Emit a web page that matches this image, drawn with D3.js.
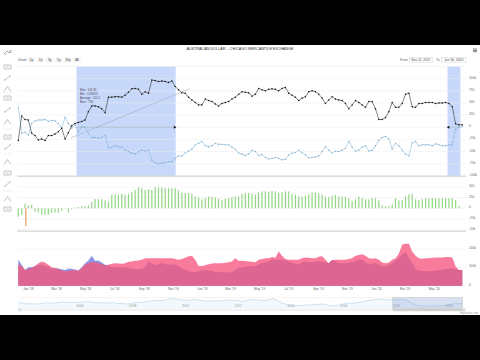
<!DOCTYPE html>
<html>
<head>
<meta charset="utf-8">
<script src="https://cdn.jsdelivr.net/npm/d3@7"></script>
<style>
    html, body { margin: 0; padding: 0; background: #000; overflow: hidden; }
    svg { display: block; font-family: "Liberation Sans", Arial, sans-serif; }
    .tick-label { font-size: 3.3px; fill: #666; }
    .axis path, .axis line { display: none; }
    .axis text { font-size: 3.2px; fill: #666; font-family: "Liberation Sans", Arial, sans-serif; }
</style>
</head>
<body>
<svg id="chart" width="480" height="360"></svg>
<script>
// net position, thousands of contracts
const longSeries = [-27,23,16,15,-12,-17,-26,-24,-27,-17,-17,-14,-9,-2,-24,-11,3,8,10,12,15,32,44,44,42,38,30,62,62,63,63,62,66,72,79,80,78,68,73,70,97,96,94,95,94,92,
    95,84,77,71,70,62,56,51,46,46,58,55,53,48,44,49,51,53,58,62,68,73,72,71,64,68,80,77,75,78,79,78,75,80,82,70,66,62,55,60,63,73,75,73,68,60,
    49,56,63,58,56,55,49,38,46,55,51,46,41,53,53,38,16,16,20,32,51,41,41,49,68,70,42,41,49,49,51,51,51,49,50,50,51,49,42,7,5,5];
const shortSeries = [41,-12,-10,-16,8,13,15,15,16,12,14,13,8,-2,21,8,-2,5,-9,1,1,-12,-21,-21,-23,-21,-16,-43,-41,-38,-40,-41,-47,-50,-53,-55,-50,-47,-49,-47,-68,-73,-75,-74,-73,-71,
    -71,-64,-59,-59,-53,-49,-45,-36,-33,-29,-38,-40,-38,-33,-35,-35,-36,-36,-41,-45,-53,-55,-58,-55,-47,-50,-58,-56,-62,-65,-64,-62,-64,-67,-66,-57,-53,-52,-47,-52,-57,-63,-62,-61,-59,-50,
    -40,-47,-53,-49,-50,-47,-43,-29,-41,-49,-47,-41,-38,-49,-47,-38,-27,-21,-19,-24,-45,-33,-38,-47,-55,-59,-32,-29,-38,-36,-36,-36,-38,-34,-36,-38,-38,-36,-36,-4,1,1];
const changeSeries = [-20,-15,11,7,8,-8,-10,-15,-15,-15,-11,-10,-10,-6,-1,-10,-2,2,3,5,5,7,15,22,22,21,19,15,32,33,32,34,32,34,38,43,49,47,43,45,43,49,49,49,47,47,47,47,42,37,36,36,34,28,26,21,24,28,27,26,23,19,23,24,26,28,28,
    34,36,36,34,32,37,40,40,39,40,40,37,38,40,40,34,32,28,27,30,33,37,37,36,32,28,27,30,31,28,28,27,24,17,21,27,24,21,21,24,24,19,7,5,5,9,24,19,19,28,33,34,21,19,22,24,24,24,24,23,24,24,24,24,19,5,0];
const openSeries = [114,108,86,90,97,108,123,130,127,114,101,97,90,83,77,79,83,83,81,95,114,123,128,127,123,117,112,114,119,123,121,119,123,130,132,136,138,141,150,150,149,149,149,149,150,149,149,145,141,145,152,160,163,141,108,108,112,117,121,123,123,123,125,128,132,150,136,
    136,134,132,130,128,141,145,149,150,156,152,187,163,145,141,141,141,141,149,154,152,150,149,158,160,141,123,139,141,141,141,141,145,150,163,167,171,163,150,147,150,141,127,123,127,141,150,174,224,229,229,187,163,150,147,149,150,152,154,154,154,156,156,154,105,86,86];
const interestSeries = [141,114,86,101,101,105,112,114,108,101,92,94,94,90,86,92,92,88,83,101,123,138,163,136,138,127,114,108,101,101,99,99,99,95,94,90,90,90,101,132,119,112,117,123,116,114,114,114,108,94,86,79,73,75,79,83,86,83,79,75,75,73,72,72,73,86,95,
    99,103,105,105,108,114,123,127,132,141,141,141,141,136,132,127,119,114,128,130,128,128,130,132,130,127,123,141,132,123,123,123,125,128,132,141,141,127,116,119,123,114,105,105,112,123,138,150,169,182,150,123,90,83,79,77,77,79,81,84,86,90,92,94,90,86,86];
const navigatorSeries = [-21,-35,-49,-42,-49,-35,-21,-35,-21,-7,-14,-7,-21,-7,0,-14,-21,-28,-28,-21,-35,-42,-49,-28,-14,-7,7,21,28,21,49,63,49,35,21,49,35,21,7,21,14,21,35,21,35,
    0,35,49,35,21,35,63,21,-35,-63,-91,-84,-77,-70,-63,-56,-49,-70,-91,-77,-49,-28,-35,-21,-7,21,35,49,49,42,35,42,49,21,-35,-77,-91,-91,-91,-91,-84,-77,-49,-42,-35];
const orangeIndex = [2];
const orangeValues = [-42];

const mainTicks = [100, 75, 50, 25, 0, -25, -50, -75, -100];
const changeTicks = [50, 25, 0, -25, -50];
const areaTicks = [200, 100, 0];
const zoomButtons = ['1y', '2y', '3y', '5y', '10y', 'All'];
const statLines = ['Max : 141.81', 'Min : 13.8413', 'Average : 112.5', 'Bars : 756'];

const firstDate = new Date(2017, 11, 12);
const lastDate = new Date(2020, 5, 30);
const dates = d3.range(longSeries.length).map(i => d3.timeWeek.offset(firstDate, i));

const bandStarts = [new Date(2018, 3, 13), new Date(2020, 4, 30)];
const bandEnds = [new Date(2018, 10, 7), new Date(2020, 5, 26)];
const trendDates = [new Date(2018, 3, 1), new Date(2018, 11, 6)];
const trendValues = [-22, 79];

const PLOT = { left: 18.3, right: 462.3 };

const $svg = d3.select('#chart');

// white page area between the video bars
$svg.append('rect').attr('x', 0).attr('y', 45).attr('width', 480).attr('height', 270).attr('fill', '#fff');

const xScale = d3.scaleTime().domain([firstDate, lastDate]).range([PLOT.left, PLOT.right]);
const yMain = d3.scaleLinear().domain([-100, 125]).range([175.9, 66.5]);
const yChange = d3.scaleLinear().domain([-50, 50]).range([229.6, 187]);
const yArea = d3.scaleLinear().domain([0, 200]).range([285.7, 249]);

function drawGrid(ticks, scale) {
    $svg.append('g').selectAll('line')
        .data(ticks)
        .enter().append('line')
        .attr('x1', PLOT.left - 1).attr('x2', 466)
        .attr('y1', d => scale(d)).attr('y2', d => scale(d))
        .attr('stroke', '#ececec').attr('stroke-width', 0.5)
}

function drawYLabels(ticks, scale) {
    $svg.append('g').selectAll('text')
        .data(ticks)
        .enter().append('text')
        .attr('class', 'tick-label')
        .attr('x', 469)
        .attr('y', d => scale(d))
        .text(d => d === 0 ? '0' : `${d}k`)
}

// bands go under the grid
$svg.append('g').selectAll('rect')
    .data(bandStarts)
    .enter().append('rect')
    .attr('x', d => xScale(d))
    .attr('y', yMain(125))
    .attr('width', (d, i) => xScale(bandEnds[i]) - xScale(d))
    .attr('height', yMain(-100) - yMain(125))
    .attr('fill', '#c8d8fb')

drawGrid([125].concat(mainTicks), yMain)
drawGrid(changeTicks, yChange)
drawGrid([200, 100], yArea)

drawYLabels(mainTicks, yMain)
drawYLabels(changeTicks, yChange)
drawYLabels(areaTicks, yArea)

// pane separators
$svg.append('g').selectAll('line')
    .data([176.2, 231.2])
    .enter().append('line')
    .attr('x1', PLOT.left - 1).attr('x2', 466)
    .attr('y1', d => d).attr('y2', d => d)
    .attr('stroke', '#c8c8c8').attr('stroke-width', 0.9)

// annotation lines on the main pane
$svg.append('line')
    .attr('x1', xScale(trendDates[0])).attr('y1', yMain(trendValues[0]))
    .attr('x2', xScale(trendDates[1])).attr('y2', yMain(trendValues[1]))
    .attr('stroke', '#a3aec4').attr('stroke-width', 0.6)

bandStarts.forEach((d, i) => {
    $svg.append('line')
        .attr('x1', xScale(d)).attr('x2', xScale(bandEnds[i]))
        .attr('y1', yMain(0)).attr('y2', yMain(0))
        .attr('stroke', '#33415f').attr('stroke-width', 0.4).attr('stroke-dasharray', '1,1')
})
$svg.append('path')
    .attr('d', d3.symbol(d3.symbolTriangle, 4))
    .attr('transform', `translate(${xScale(bandEnds[0]) - 1},${yMain(0)}) rotate(90)`)
    .attr('fill', '#111')
$svg.append('path')
    .attr('d', d3.symbol(d3.symbolTriangle, 4))
    .attr('transform', `translate(${xScale(bandStarts[1]) + 1},${yMain(0)}) rotate(-90)`)
    .attr('fill', '#111')

$svg.append('g').selectAll('text')
    .data(statLines)
    .enter().append('text')
    .attr('x', 80)
    .attr('y', (d, i) => 91 + i * 3.9)
    .attr('font-size', 2.9)
    .attr('fill', '#445')
    .text(d => d)

// net position lines
const lineGen = series => d3.line()
    .x((d, i) => xScale(dates[i]))
    .y(d => yMain(d))(series)

$svg.append('path').attr('d', lineGen(shortSeries))
    .attr('fill', 'none').attr('stroke', '#8ab8d8').attr('stroke-width', 0.6)
$svg.append('g').selectAll('circle')
    .data(shortSeries)
    .enter().append('circle')
    .attr('cx', (d, i) => xScale(dates[i])).attr('cy', d => yMain(d))
    .attr('r', 0.65).attr('fill', '#7aaccd')

$svg.append('path').attr('d', lineGen(longSeries))
    .attr('fill', 'none').attr('stroke', '#333').attr('stroke-width', 0.6)
$svg.append('g').selectAll('circle')
    .data(longSeries)
    .enter().append('circle')
    .attr('cx', (d, i) => xScale(dates[i])).attr('cy', d => yMain(d))
    .attr('r', 0.75).attr('fill', '#111')

// weekly change bars
$svg.append('g').selectAll('rect')
    .data(changeSeries)
    .enter().append('rect')
    .attr('x', (d, i) => xScale(dates[i]) - 0.6)
    .attr('y', d => Math.min(yChange(d), yChange(0)))
    .attr('width', 1.2)
    .attr('height', d => Math.abs(yChange(d) - yChange(0)))
    .attr('fill', '#93d685')

$svg.append('g').selectAll('rect')
    .data(orangeValues)
    .enter().append('rect')
    .attr('x', (d, i) => xScale(dates[orangeIndex[i]]) + 0.4)
    .attr('y', yChange(0))
    .attr('width', 1)
    .attr('height', d => yChange(d) - yChange(0))
    .attr('fill', '#dd8a3c')

// open interest areas
const areaGen = series => d3.area()
    .x((d, i) => xScale(dates[i]))
    .y0(yArea(0))
    .y1(d => yArea(d))(series)

$svg.append('path').attr('d', areaGen(interestSeries))
    .attr('fill', '#7f8bdf').attr('fill-opacity', 0.9)
$svg.append('path').attr('d', areaGen(openSeries))
    .attr('fill', '#f7648a').attr('fill-opacity', 0.85)
// overlap is darker than either one
$svg.append('clipPath').attr('id', 'interest-clip')
    .append('path').attr('d', areaGen(interestSeries))
$svg.append('path').attr('d', areaGen(openSeries))
    .attr('clip-path', 'url(#interest-clip)')
    .attr('fill', '#dc6591')

// date axis
$svg.append('g')
    .attr('class', 'axis')
    .attr('transform', 'translate(0,285.7)')
    .call(d3.axisBottom(xScale)
        .tickValues(d3.timeMonth.every(2).range(new Date(2018, 0, 1), new Date(2020, 6, 1)))
        .tickFormat(d3.timeFormat("%b '%y"))
        .tickSize(0).tickPadding(2))
    .selectAll('text').attr('dy', '0.71em')

// navigator
const navX = d3.scaleLinear().domain([0, navigatorSeries.length - 1]).range([PLOT.left, PLOT.right]);
const navY = d3.scaleLinear().domain([-105, 70]).range([306.7, 298.3]);
const navTime = d3.scaleTime().domain([new Date(2003, 8, 1), lastDate]).range([PLOT.left, PLOT.right]);

$svg.append('line').attr('x1', PLOT.left).attr('x2', PLOT.right).attr('y1', 297.7).attr('y2', 297.7)
    .attr('stroke', '#e6e6e6').attr('stroke-width', 0.5)
$svg.append('rect').attr('x', PLOT.left).attr('y', 308.4).attr('width', PLOT.right - PLOT.left + 3).attr('height', 2.8)
    .attr('fill', '#f2f2f2')
$svg.append('rect').attr('x', PLOT.left).attr('y', 308.4).attr('width', 3).attr('height', 2.8)
    .attr('fill', '#ddd')
$svg.append('rect').attr('x', PLOT.right).attr('y', 308.4).attr('width', 3).attr('height', 2.8)
    .attr('fill', '#ddd')

$svg.append('path')
    .attr('d', d3.area().x((d, i) => navX(i)).y0(308).y1(d => navY(d))(navigatorSeries))
    .attr('fill', '#eaf3fa').attr('fill-opacity', 0.6)
$svg.append('path')
    .attr('d', d3.line().x((d, i) => navX(i)).y(d => navY(d))(navigatorSeries))
    .attr('fill', 'none').attr('stroke', '#a9c9e0').attr('stroke-width', 0.5)

$svg.append('g').selectAll('text')
    .data(d3.timeYear.every(2).range(new Date(2006, 0, 1), new Date(2021, 0, 1)))
    .enter().append('text')
    .attr('x', d => navTime(d))
    .attr('y', 306.6)
    .attr('text-anchor', 'middle')
    .attr('font-size', 3.2)
    .attr('fill', '#999')
    .text(d => d.getFullYear())

$svg.append('rect').attr('x', 392.7).attr('y', 297.7).attr('width', 70).attr('height', 10.7)
    .attr('fill', '#7f9ad0').attr('fill-opacity', 0.3).attr('stroke', '#aaa').attr('stroke-width', 0.3)
$svg.append('rect').attr('x', 392.7).attr('y', 308.4).attr('width', 70).attr('height', 2.8)
    .attr('fill', '#cfcfcf')

// header text
$svg.append('text')
    .attr('x', 240).attr('y', 50.2)
    .attr('text-anchor', 'middle')
    .attr('font-size', 3.7)
    .attr('fill', '#333')
    .text('AUSTRALIAN DOLLAR -- CHICAGO MERCANTILE EXCHANGE')

$svg.append('text').attr('x', 18).attr('y', 61.3).attr('font-size', 3.4).attr('fill', '#666').text('Zoom')

const buttonX = d3.scalePoint().domain(zoomButtons).range([31.5, 77]);
const $buttons = $svg.append('g').selectAll('g')
    .data(zoomButtons)
    .enter().append('g')
    .attr('transform', d => `translate(${buttonX(d)},60)`)
$buttons.append('rect')
    .attr('x', -3.6).attr('y', -2.6).attr('width', 7.2).attr('height', 5.2)
    .attr('fill', '#f4f4f4')
$buttons.append('text')
    .attr('text-anchor', 'middle').attr('y', 1.2)
    .attr('font-size', 3.3).attr('fill', '#444')
    .text(d => d)

function dateBox(label, value, labelX, boxX, boxW) {
    $svg.append('text').attr('x', labelX).attr('y', 61).attr('font-size', 3.3).attr('fill', '#666').text(label)
    $svg.append('rect').attr('x', boxX).attr('y', 57.2).attr('width', boxW).attr('height', 5.4)
        .attr('fill', '#fff').attr('stroke', '#ccc').attr('stroke-width', 0.4)
    $svg.append('text').attr('x', boxX + boxW / 2).attr('y', 61).attr('text-anchor', 'middle')
        .attr('font-size', 3.3).attr('fill', '#444').text(value)
}
dateBox('From', 'Nov 11, 2017', 400, 409.5, 23)
dateBox('To', 'Jun 30, 2020', 436, 441.5, 24.5)

// export menu, top right
$svg.append('g').selectAll('rect')
    .data([48.6, 50, 51.4])
    .enter().append('rect')
    .attr('x', 473).attr('y', d => d).attr('width', 4).attr('height', 0.8)
    .attr('fill', '#666')

// drawing tool rail
const iconY = [67, 78, 89, 98, 100, 110, 122, 137, 147, 162, 173, 184, 199, 209];
$svg.append('path')
    .attr('d', 'M4 54 L7 51 L9 53 L12 50 M4 53 L6 55 M9 50 L11 53')
    .attr('fill', 'none').attr('stroke', '#777').attr('stroke-width', 0.6)
$svg.append('g').selectAll('path')
    .data(iconY.filter(d => d !== 100))
    .enter().append('path')
    .attr('d', (d, i) => i % 3 === 0
        ? `M4 ${d - 2} H11 V${d + 2} H4 Z M6 ${d} H9`
        : i % 3 === 1
            ? `M4 ${d + 2.5} L11 ${d - 2.5} M5 ${d + 2} h1 M9 ${d - 2} h1`
            : `M4 ${d + 2.5} L7.5 ${d - 2.5} L11 ${d + 2.5}`)
    .attr('fill', 'none').attr('stroke', '#888').attr('stroke-width', 0.5)
$svg.append('g').selectAll('line')
    .data([93, 129, 154, 191])
    .enter().append('line')
    .attr('x1', 3).attr('x2', 12).attr('y1', d => d).attr('y2', d => d)
    .attr('stroke', '#e3e3e3').attr('stroke-width', 0.5)

$svg.append('text').attr('x', 478).attr('y', 314).attr('text-anchor', 'end')
    .attr('font-size', 2.6).attr('fill', '#999').text('Highcharts.com')
</script>
</body>
</html>
